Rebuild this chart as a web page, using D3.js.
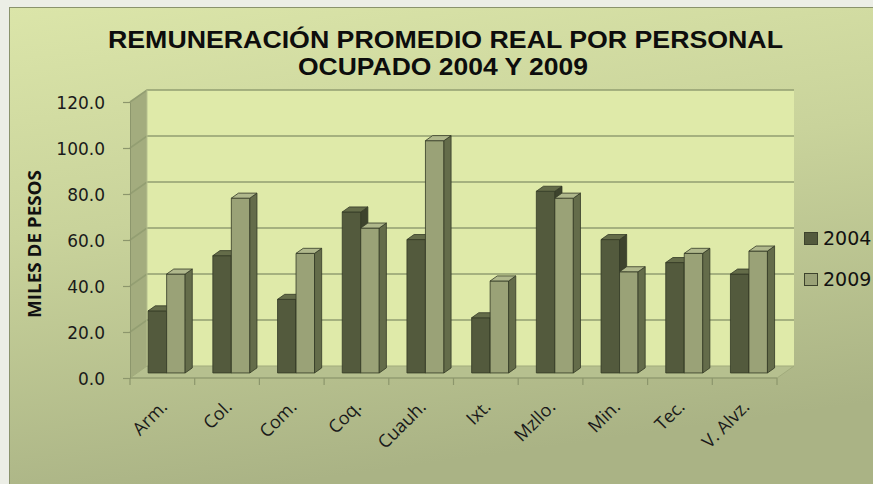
<!DOCTYPE html>
<html><head><meta charset="utf-8">
<script src="https://cdn.jsdelivr.net/npm/d3@7"></script>
<style>html,body{margin:0;padding:0;background:#eceee6;}svg{display:block;}</style>
</head><body>
<svg id="c" width="873" height="484"></svg>
<script>
const categories = ["Arm.","Col.","Com.","Coq.","Cuauh.","Ixt.","Mzllo.","Min.","Tec.","V. Alvz."];
const series = ["2004","2009"];
const values2004 = [27, 51, 32, 70, 58, 24, 79, 58, 48, 43];
const values2009 = [43, 76, 52, 63, 101, 40, 76, 44, 52, 53];
const yTicks = [0, 20, 40, 60, 80, 100, 120];
const titleLines = ["REMUNERACIÓN PROMEDIO REAL POR PERSONAL", "OCUPADO 2004 Y 2009"];
const yTitle = "MILES DE PESOS";

const svg = d3.select("#c");
const W = 873, H = 484;
const defs = svg.append("defs");
const g1 = defs.append("linearGradient").attr("id","bg").attr("x1",0).attr("y1",0).attr("x2",0.25).attr("y2",1);
g1.append("stop").attr("offset","0%").attr("stop-color","#dbe5a9");
g1.append("stop").attr("offset","45%").attr("stop-color","#c9d39b");
g1.append("stop").attr("offset","100%").attr("stop-color","#aab385");

// chart background
svg.append("rect").attr("x",9.5).attr("y",7.5).attr("width",W).attr("height",H)
  .attr("fill","url(#bg)").attr("stroke","#8a936c").attr("stroke-width",1);

// scales
const X0 = 130, X1 = 777;
const x = d3.scaleBand().domain(categories).range([X0, X1]).padding(0);
const bw = x.bandwidth();
const xs = d3.scaleBand().domain(series).range([0.17*bw, 0.17*bw + 37]).padding(0);
const y = d3.scaleLinear().domain([0,120]).range([378,102]);
const DX = 17, DY = -12;
const P = (px, v, z) => [px + DX*z, y(v) + DY*z];
const poly = pts => pts.map(p => p.join(",")).join(" ");

// walls
svg.append("polygon").attr("points", poly([P(X0,0,1),P(X1,0,1),P(X1,120,1),P(X0,120,1)]))
  .attr("fill","#dfeaa9");
svg.append("polygon").attr("points", poly([P(X0,0,0),P(X0,120,0),P(X0,120,1),P(X0,0,1)]))
  .attr("fill","#a3ac7e");
svg.append("polygon").attr("points", poly([P(X0,0,0),P(X1,0,0),P(X1,0,1),P(X0,0,1)]))
  .attr("fill","#b6c08f").attr("stroke","#a1ab7c").attr("stroke-width",1);

// gridlines
yTicks.forEach(v => {
  if (v === 0) return;
  svg.append("polyline").attr("points", poly([P(X0,v,0),P(X0,v,1),P(X1,v,1)]))
    .attr("fill","none").attr("stroke","#939e72").attr("stroke-width",1.6);
});
svg.append("line").attr("x1",P(X0,0,1)[0]).attr("y1",P(X0,0,1)[1]).attr("x2",P(X0,120,1)[0]).attr("y2",P(X0,120,1)[1])
  .attr("stroke","#b7c18f").attr("stroke-width",1);

// bars
const colors = {
  "2004": {front:"#535a3d", side:"#3d432d", top:"#646c49"},
  "2009": {front:"#9aa277", side:"#646c4a", top:"#b0b88c"}
};
const z0 = 0.42, dz = 0.42;
const data = categories.map((c,i) => ({c, vals: [{s:"2004", v:values2004[i]},{s:"2009", v:values2009[i]}]}));
const gb = svg.append("g").attr("stroke","#343a26").attr("stroke-width",0.8).attr("stroke-linejoin","round");
data.forEach(d => {
  d.vals.forEach(b => {
    const xl = x(d.c) + xs(b.s), xr = xl + xs.bandwidth();
    const col = colors[b.s];
    gb.append("polygon").attr("points", poly([P(xl,0,z0),P(xr,0,z0),P(xr,b.v,z0),P(xl,b.v,z0)])).attr("fill",col.front);
    gb.append("polygon").attr("points", poly([P(xr,0,z0),P(xr,0,z0+dz),P(xr,b.v,z0+dz),P(xr,b.v,z0)])).attr("fill",col.side);
    gb.append("polygon").attr("points", poly([P(xl,b.v,z0),P(xr,b.v,z0),P(xr,b.v,z0+dz),P(xl,b.v,z0+dz)])).attr("fill",col.top);
  });
});

// y axis
const yAxis = d3.axisLeft(y).tickValues(yTicks).tickFormat(d3.format(".1f")).tickSize(7).tickSizeOuter(0).tickPadding(18);
const ga = svg.append("g").attr("transform",`translate(${X0},0)`).call(yAxis);
ga.select(".domain").attr("stroke","#8c966c").attr("stroke-width",1);
ga.selectAll(".tick line").attr("stroke","#8c966c").attr("stroke-width",1.2);
ga.selectAll(".tick text").attr("font-family","'DejaVu Sans', sans-serif").attr("font-size",17).attr("fill","#1a1a1a").attr("dy","0.36em");

// x axis
svg.append("line").attr("x1",X0).attr("x2",X1).attr("y1",y(0)).attr("y2",y(0)).attr("stroke","#8c966c").attr("stroke-width",1.2);
const bounds = categories.map(c => x(c)).concat([X1]);
svg.selectAll(".xt").data(bounds).join("line").attr("class","xt")
  .attr("x1",d=>d).attr("x2",d=>d).attr("y1",y(0)).attr("y2",y(0)+7)
  .attr("stroke","#8c966c").attr("stroke-width",1.2);
svg.selectAll(".xl").data(categories).join("text").attr("class","xl")
  .attr("transform", c => `translate(${x(c)+bw/2+6},${y(0)+30}) rotate(-45)`)
  .attr("text-anchor","end").attr("font-family","'Open Sans', sans-serif").attr("font-size",18)
  .attr("fill","#1a1a1a").text(c => c);

// y title
svg.append("text").attr("transform","translate(41,244) rotate(-90)").attr("text-anchor","middle")
  .attr("font-family","'Open Sans', sans-serif").attr("font-weight","bold").attr("font-size",17)
  .attr("textLength",148).attr("lengthAdjust","spacingAndGlyphs")
  .attr("fill","#111").text(yTitle);

// title
svg.append("text").attr("x",445.5).attr("y",48).attr("text-anchor","middle")
  .attr("font-family","'Liberation Sans', Arial, sans-serif").attr("font-weight","bold").attr("font-size",24.5)
  .attr("textLength",675).attr("lengthAdjust","spacingAndGlyphs").attr("fill","#0d0d0d").text(titleLines[0]);
svg.append("text").attr("x",443).attr("y",75).attr("text-anchor","middle")
  .attr("font-family","'Liberation Sans', Arial, sans-serif").attr("font-weight","bold").attr("font-size",24.5)
  .attr("textLength",290).attr("lengthAdjust","spacingAndGlyphs").attr("fill","#0d0d0d").text(titleLines[1]);

// legend
const lg = svg.append("g");
series.forEach((s,i) => {
  const yy = 232 + i*41;
  lg.append("rect").attr("x",804.5).attr("y",yy+0.5).attr("width",13).attr("height",12)
    .attr("fill",colors[s].front).attr("stroke","#3d432d").attr("stroke-width",1);
  lg.append("text").attr("x",823).attr("y",yy+13).attr("font-family","'DejaVu Sans', sans-serif")
    .attr("font-size",19).attr("fill","#111").text(s);
});
</script>
</body></html>
